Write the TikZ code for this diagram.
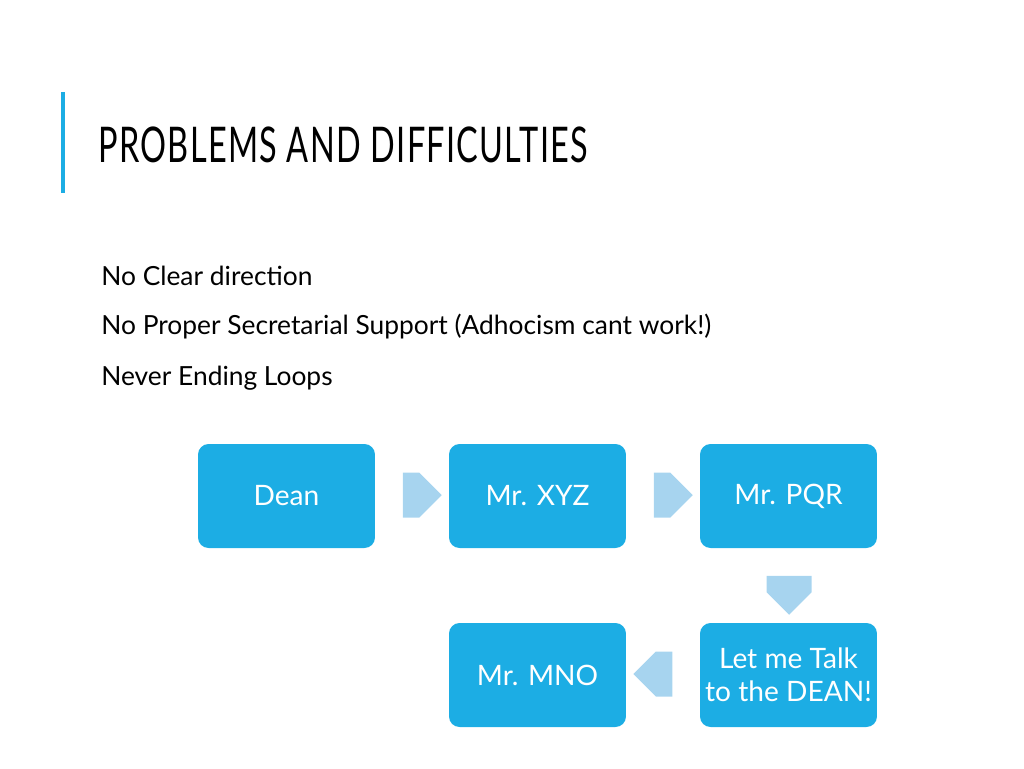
\documentclass[tikz,border=0pt]{standalone}
\usepackage{fontspec}
\setmainfont{Lato}
\usetikzlibrary{shapes.arrows}
\definecolor{acc}{HTML}{1CADE4}
\definecolor{arr}{HTML}{A7D4EF}
\begin{document}
\begin{tikzpicture}[x=0.02cm,y=-0.02cm,
  box/.style={fill=acc,rounded corners=6pt,minimum width=3.54cm,minimum height=2.08cm,text=white,font=\fontsize{16}{19}\selectfont,align=center,inner sep=0pt},
  arw/.style={single arrow,fill=arr,minimum height=0.78cm,minimum width=0.9cm,single arrow head extend=0pt,inner sep=0pt,shape border rotate=#1},
  item/.style={anchor=west,font=\fontsize{15}{18}\selectfont,inner sep=0pt}]
\useasboundingbox (0,0) rectangle (1024,768);
\draw[acc,line width=2.5pt] (63,92) -- (63,193);
\node[anchor=west,inner sep=0pt] (t) at (98,145) {\scalebox{0.66}[1]{\fontsize{28}{30}\selectfont\addfontfeatures{LetterSpace=4}PROBLEMS AND DIFFICULTIES}};
\node[item] (i1) at (101,276) {No Clear direction};
\node[item] (i2) at (101,327) {No Proper Secretarial Support (Adhocism cant work!)};
\node[item] (i3) at (101,378) {Never Ending Loops};
\node[box] (dean) at (286.5,496) {Dean};
\node[box] (xyz) at (537.5,496) {Mr. XYZ};
\node[box] (pqr) at (788.5,496) {Mr. PQR};
\node[box] (let) at (788.5,675) {Let me Talk\\to the DEAN!};
\node[box] (mno) at (537.5,675) {Mr. MNO};
\node[arw=0] (a1) at (411,495) {};
\node[arw=0] (a2) at (662,495) {};
\node[arw=270] (a3) at (789,584) {};
\node[arw=180] (a4) at (664,674) {};
\end{tikzpicture}
\end{document}
